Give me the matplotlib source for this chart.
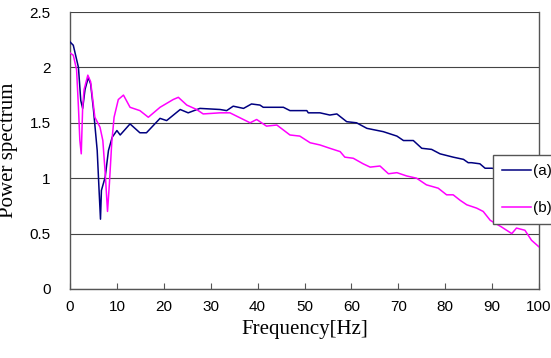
import matplotlib.pyplot as plt

plt.rcParams['font.family'] = 'Liberation Sans'

# (a) - navy curve
freq_a = [0, 0.7, 1.8, 2.3, 2.7, 3.2, 3.9, 4.4, 5.0, 5.8, 6.2, 6.5, 6.7, 7.5, 8.2, 9.0, 10.0,
          10.7, 12.8, 14.9, 16.3, 19.2, 20.6, 23.5, 25.2, 27.7, 32, 33.4, 34.8, 37, 38.7,
          40.5, 41.2, 45.5, 46.9, 50.5, 50.8, 53.3, 55.4, 56.9, 59, 61.1, 63.3, 66.8, 69.7,
          71.1, 73.2, 75, 77.1, 78.9, 81.7, 83.9, 84.9, 85.6, 87.4, 88.5, 89.9, 92, 95, 98, 100]
power_a = [2.23, 2.2, 2.0, 1.7, 1.63, 1.8, 1.91, 1.85, 1.62, 1.25, 0.89, 0.63, 0.89, 1.01, 1.25,
           1.37, 1.43, 1.39, 1.49, 1.41, 1.41, 1.54, 1.52, 1.62, 1.59, 1.63, 1.62, 1.61, 1.65,
           1.63, 1.67, 1.66, 1.64, 1.64, 1.61, 1.61, 1.59, 1.59, 1.57, 1.58, 1.51, 1.50, 1.45,
           1.42, 1.38, 1.34, 1.34, 1.27, 1.26, 1.22, 1.19, 1.17, 1.14, 1.14, 1.13, 1.09, 1.09,
           1.08, 1.07, 1.05, 1.04]

# (b) - magenta curve
freq_b = [0, 0.7, 1.4, 1.8, 2.1, 2.4, 2.7, 3.0, 3.8, 4.4, 5.3, 6.4, 7.0, 7.5, 8.0, 8.4, 8.9,
          9.4, 10.3, 11.4, 12.8, 14.9, 16.7, 19.2, 22, 23.1, 24.9, 27, 28.4, 32, 34.1, 38.4,
          39.8, 41.9, 44.1, 46.9, 49, 51.2, 53.3, 55.4, 57.6, 58.6, 60.4, 62.5, 64, 66.1, 67.9,
          69.7, 71.8, 73.9, 76, 78.5, 80.3, 81.7, 83.2, 84.6, 86.7, 88.1, 89.6, 92, 94.2, 95.2,
          97, 98.4, 100]
power_b = [2.13, 2.11, 1.98, 1.64, 1.34, 1.22, 1.64, 1.8, 1.93, 1.87, 1.55, 1.46, 1.34, 1.05,
           0.7, 0.95, 1.32, 1.55, 1.71, 1.75, 1.64, 1.61, 1.55, 1.64, 1.71, 1.73, 1.66, 1.62,
           1.58, 1.59, 1.59, 1.5, 1.53, 1.47, 1.48, 1.39, 1.38, 1.32, 1.3, 1.27, 1.24, 1.19,
           1.18, 1.13, 1.1, 1.11, 1.04, 1.05, 1.02, 1.0, 0.94, 0.91, 0.85, 0.85, 0.8, 0.76,
           0.73, 0.7, 0.62, 0.56, 0.5, 0.55, 0.53, 0.44, 0.38]

x_ticks = list(range(0, 101, 10))
y_ticks = [0, 0.5, 1, 1.5, 2, 2.5]
y_tick_labels = ['0', '0.5', '1', '1.5', '2', '2.5']

fig = plt.figure(figsize=(5.51, 3.58), dpi=100)
ax = fig.add_axes([70/551, 1 - 289/358, 469/551, 277/358])

ax.plot(freq_a, power_a, color='#000080', linewidth=1.1, label='(a)', zorder=3)
ax.plot(freq_b, power_b, color='#ff00ff', linewidth=1.1, label='(b)', zorder=3)

ax.set_xlim(0, 100)
ax.set_ylim(0, 2.5)
ax.set_xticks(x_ticks)
ax.set_yticks(y_ticks)
ax.set_yticklabels(y_tick_labels)
ax.tick_params(axis='x', direction='in', length=4, color='#555555', labelsize=11, pad=8)
ax.tick_params(axis='y', length=0, labelsize=11, pad=14)
ax.grid(axis='y', color='#444444', linewidth=0.8)
ax.set_axisbelow(True)
for spine in ax.spines.values():
    spine.set_color('#555555')
    spine.set_linewidth(1.0)
ax.spines['top'].set_visible(False)

ax.set_xlabel('Frequency[Hz]', family='Liberation Serif', fontsize=15, labelpad=4)
ax.set_ylabel('Power spectrum', family='Liberation Serif', fontsize=15, labelpad=8)

leg = fig.legend(loc='upper left', bbox_to_anchor=(493/551, 1 - 155/358), fontsize=11,
                 handlelength=1.9, handletextpad=0.15, labelspacing=1.5, borderpad=0.6,
                 fancybox=False, framealpha=1, borderaxespad=0)
leg.get_frame().set_edgecolor('#555555')
leg.get_frame().set_linewidth(1.0)

fig.savefig('out.png', dpi=100)
